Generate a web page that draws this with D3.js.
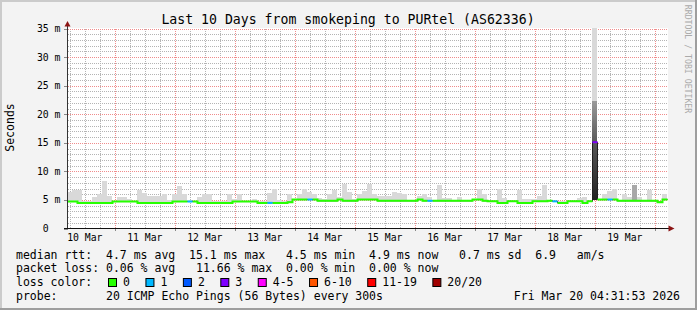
<!DOCTYPE html>
<html>
<head>
<meta charset="utf-8">
<script src="https://cdn.jsdelivr.net/npm/d3@7"></script>
<style>
  body { margin: 0; background: #f3f3f3; }
  svg { display: block; font-family: "DejaVu Sans Mono", monospace; }
</style>
</head>
<body>
<script>
// chart text
var title = "Last 10 Days from smokeping to PURtel (AS62336)";
var yAxisTitle = "Seconds";
var yTicks = [0, 5, 10, 15, 20, 25, 30, 35];
var yTickLabels = ["0  ", "5 m", "10 m", "15 m", "20 m", "25 m", "30 m", "35 m"];

// median rtt (ms), one value per 2 hours starting 10 Mar 05:04
var median = [
  4.72, 4.72, 4.48, 4.48, 4.48, 4.48, 4.48, 4.48, 4.48, 4.72,
  4.72, 4.72, 4.72, 4.72, 4.48, 4.48, 4.48, 4.48, 4.48, 4.48,
  4.48, 4.72, 4.72, 4.72, 4.72, 4.72, 4.48, 4.48, 4.48, 4.48,
  4.48, 4.48, 4.48, 4.72, 4.72, 4.72, 4.72, 4.72, 4.48, 4.48,
  4.48, 4.48, 4.48, 4.48, 4.6,  5.07, 5.07, 5.07, 5.07, 5.07,
  4.85, 4.85, 4.85, 4.85, 5.07, 4.85, 4.85, 4.85, 5.07, 5.07,
  5.07, 5.07, 4.85, 4.85, 4.85, 4.85, 4.85, 4.85, 4.85, 4.85,
  5.07, 4.85, 4.85, 4.85, 4.85, 4.85, 4.85, 4.85, 4.85, 4.85,
  4.85, 5.07, 5.07, 4.85, 4.75, 4.75, 4.48, 4.48, 4.75, 4.75,
  4.48, 4.48, 4.48, 4.75, 4.75, 4.75, 4.85, 4.75, 4.48, 4.48,
  4.75, 4.75, 4.75, 4.48, 4.75, 15.1, 5.07, 5.07, 5.07, 5.07,
  4.85, 4.85, 4.85, 4.85, 4.85, 4.85, 4.85, 4.85, 4.6,  5.07
];

// top of the smoke (highest ping, ms)
var smokeHi = [
  6.4, 6.7, 6.7, 4.9, 4.8, 5.5, 6.1, 8.3, 5.7, 4.9,
  5.5, 5.5, 5.2, 4.9, 6.7, 6.2, 5.7, 5.7, 5.7, 6.1,
  5.0, 6.0, 7.4, 6.1, 5.0, 4.9, 5.5, 6.0, 6.0, 4.8,
  4.8, 4.9, 6.0, 5.2, 6.1, 4.9, 4.9, 5.2, 4.9, 4.8,
  6.2, 7.0, 5.0, 4.9, 6.1, 5.2, 6.0, 7.0, 6.4, 6.1,
  5.3, 5.2, 6.1, 6.7, 5.5, 7.75, 6.4, 5.2, 6.0, 6.6,
  7.75, 6.1, 5.7, 5.7, 5.7, 6.4, 6.2, 6.0, 5.0, 4.9,
  5.7, 6.0, 5.5, 5.0, 7.6, 5.4, 5.4, 4.9, 5.5, 4.9,
  4.9, 5.0, 7.0, 6.1, 4.9, 4.9, 7.0, 5.3, 4.8, 4.8,
  6.7, 5.2, 5.1, 5.1, 5.7, 7.6, 4.9, 4.9, 4.8, 4.8,
  4.9, 4.9, 5.4, 5.5, 4.9, 40,  5.1, 6.1, 6.6, 7.0,
  4.9, 6.1, 5.5, 7.6, 5.5, 5.0, 6.7, 4.9, 4.9, 6.1
];

// denser part of the smoke: [index, low, high]
var smokeDark = [[105, 5.0, 22.4], [113, 4.85, 7.6]];

// loss events: [index, loss colour class]
var lossEvents = [[24, 1], [40, 1], [48, 1], [72, 1], [97, 1], [105, 3], [108, 1]];

var lossLabels = ["0", "1", "2", "3", "4-5", "6-10", "11-19", "20/20"];
var lossColors = ["#26ff00", "#00b8ff", "#0059ff", "#7e00ff", "#ff00ff", "#ff5500", "#ff0000", "#a00000"];

var legendRows = [
  "median rtt:  4.7 ms avg  15.1 ms max   4.5 ms min  4.9 ms now   0.7 ms sd  6.9   am/s",
  "packet loss: 0.06 % avg   11.66 % max  0.00 % min  0.00 % now",
  "loss color:",
  "probe:       20 ICMP Echo Pings (56 Bytes) every 300s"
];
var stamp = "Fri Mar 20 04:31:53 2026";
var watermark = "RRDTOOL / TOBI OETIKER";

var W = 697, H = 310;
var start = Date.UTC(2026, 2, 10, 5, 4);
var step = 2 * 3600 * 1000;
var end = start + 10 * 24 * 3600 * 1000;

var x = d3.scaleUtc().domain([start, end]).range([67.5, 667.5]);
var y = d3.scaleLinear().domain([0, 35]).range([228.5, 28.5]);

// keep runs of spaces in svg text
function keep(s) { return s.replace(/ /g, "\u00a0"); }

var svg = d3.select("body").append("svg")
  .attr("width", W).attr("height", H);

// frame
svg.append("rect").attr("width", W).attr("height", H).attr("fill", "#f3f3f3");
svg.append("path").attr("d", "M0,0H" + W + "V2H2V" + H + "H0Z").attr("fill", "#cbcbcb");
svg.append("path").attr("d", "M" + W + ",0V" + H + "H0V" + (H - 2) + "H" + (W - 2) + "V0Z").attr("fill", "#9e9e9e");

// canvas
svg.append("rect").attr("x", 67).attr("y", 28).attr("width", 601).attr("height", 201).attr("fill", "#fff");

var grid = svg.append("g").attr("shape-rendering", "crispEdges");
var minorCol = "#b4b4b4", majorCol = "#f08c8c";

// minor grid
var minorY = d3.range(0, 36).filter(function(v) { return v % 5 !== 0; });
grid.selectAll(".my").data(minorY).enter().append("line")
  .attr("x1", 67.5).attr("x2", 667.5)
  .attr("y1", function(d) { return Math.round(y(d)) + 0.5; })
  .attr("y2", function(d) { return Math.round(y(d)) + 0.5; })
  .attr("stroke", minorCol).attr("stroke-dasharray", "1,1");
var minorX = d3.utcHour.every(6).range(start, end).filter(function(d) { return d.getUTCHours() !== 0; });
grid.selectAll(".mx").data(minorX).enter().append("line")
  .attr("x1", function(d) { return Math.round(x(d)) + 0.5; })
  .attr("x2", function(d) { return Math.round(x(d)) + 0.5; })
  .attr("y1", 28.5).attr("y2", 228.5)
  .attr("stroke", minorCol).attr("stroke-dasharray", "1,1");

// major grid
grid.selectAll(".My").data(yTicks.slice(1)).enter().append("line")
  .attr("x1", 67.5).attr("x2", 667.5)
  .attr("y1", function(d) { return Math.round(y(d)) + 0.5; })
  .attr("y2", function(d) { return Math.round(y(d)) + 0.5; })
  .attr("stroke", majorCol).attr("stroke-dasharray", "1,1");
var days = d3.utcDay.range(start, end);
grid.selectAll(".Mx").data(days).enter().append("line")
  .attr("x1", function(d) { return Math.round(x(d)) + 0.5; })
  .attr("x2", function(d) { return Math.round(x(d)) + 0.5; })
  .attr("y1", 28.5).attr("y2", 228.5)
  .attr("stroke", majorCol).attr("stroke-dasharray", "1,1");

// ticks outside the axes
grid.selectAll(".ty").data(yTicks).enter().append("line")
  .attr("x1", 64).attr("x2", 67.5)
  .attr("y1", function(d) { return Math.round(y(d)) + 0.5; })
  .attr("y2", function(d) { return Math.round(y(d)) + 0.5; })
  .attr("stroke", "#888");
grid.selectAll(".tx").data(days).enter().append("line")
  .attr("x1", function(d) { return Math.round(x(d)) + 0.5; })
  .attr("x2", function(d) { return Math.round(x(d)) + 0.5; })
  .attr("y1", 228.5).attr("y2", 231)
  .attr("stroke", "#888");

// smoke
svg.append("clipPath").attr("id", "plotclip")
  .append("rect").attr("x", 67).attr("y", 28).attr("width", 601).attr("height", 201);
var defs = svg.append("defs");
var grad = defs.append("linearGradient").attr("id", "spike").attr("x1", 0).attr("x2", 0).attr("y1", 0).attr("y2", 1);
grad.append("stop").attr("offset", "0%").attr("stop-color", "#9a9a9a");
grad.append("stop").attr("offset", "45%").attr("stop-color", "#555");
grad.append("stop").attr("offset", "100%").attr("stop-color", "#222");

var plot = svg.append("g").attr("clip-path", "url(#plotclip)");
function t(i) { return start + i * step; }

plot.selectAll(".smoke").data(smokeHi).enter().append("rect")
  .attr("x", function(d, i) { return x(t(i)) - 0.5; })
  .attr("width", function(d, i) { return x(t(i + 1)) - x(t(i)); })
  .attr("y", function(d) { return y(d); })
  .attr("height", function(d, i) { return Math.max(0, y(median[i]) - y(d)); })
  .attr("fill", "#d9d9d9")
  .attr("shape-rendering", "crispEdges");

plot.selectAll(".dark").data(smokeDark).enter().append("rect")
  .attr("x", function(d) { return x(t(d[0])) - 0.5; })
  .attr("width", function(d) { return x(t(d[0] + 1)) - x(t(d[0])); })
  .attr("y", function(d) { return y(d[2]); })
  .attr("height", function(d) { return y(d[1]) - y(d[2]); })
  .attr("fill", function(d) { return d[2] > 10 ? "url(#spike)" : "#a8a8a8"; })
  .attr("shape-rendering", "crispEdges");

// median: thin dark step line, then loss coloured segments
var lossAt = {};
lossEvents.forEach(function(e) { lossAt[e[0]] = e[1]; });

var pts = median.map(function(m, i) { return [t(i), m]; });
pts.push([t(median.length), median[median.length - 1]]);
var stepLine = d3.line()
  .x(function(d) { return x(d[0]); })
  .y(function(d) { return y(d[1]); })
  .curve(d3.curveStepAfter);

plot.append("path").attr("d", stepLine(pts))
  .attr("fill", "none").attr("stroke", "#202020").attr("stroke-width", 1);

// runs of zero loss drawn as green steps
var runs = [], cur = null;
median.forEach(function(m, i) {
  if (lossAt[i] === undefined) {
    if (!cur) { cur = []; runs.push(cur); }
    cur.push([t(i), m]);
  } else {
    if (cur) cur.push([t(i), cur[cur.length - 1][1]]);
    cur = null;
  }
});
if (cur) cur.push([t(median.length), cur[cur.length - 1][1]]);

plot.selectAll(".run").data(runs).enter().append("path")
  .attr("d", stepLine)
  .attr("fill", "none").attr("stroke", lossColors[0]).attr("stroke-width", 2);

plot.selectAll(".loss").data(lossEvents).enter().append("line")
  .attr("x1", function(d) { return x(t(d[0])); })
  .attr("x2", function(d) { return x(t(d[0] + 1)); })
  .attr("y1", function(d) { return y(median[d[0]]); })
  .attr("y2", function(d) { return y(median[d[0]]); })
  .attr("stroke", function(d) { return lossColors[d[1]]; })
  .attr("stroke-width", 2);

// axes
svg.append("line").attr("x1", 67.5).attr("x2", 67.5).attr("y1", 229).attr("y2", 24)
  .attr("stroke", "#333").attr("shape-rendering", "crispEdges");
svg.append("line").attr("x1", 64).attr("x2", 670).attr("y1", 228.5).attr("y2", 228.5)
  .attr("stroke", "#111").attr("shape-rendering", "crispEdges");
svg.append("path").attr("d", "M64.5,26.5L70.5,26.5L67.5,21Z").attr("fill", "#8b1414");
svg.append("path").attr("d", "M668.5,225.5L668.5,231.5L674.5,228.5Z").attr("fill", "#8b1414");

// y labels
svg.selectAll(".yl").data(yTicks).enter().append("text")
  .attr("x", 60.5).attr("y", function(d) { return y(d); })
  .attr("dy", "0.35em").attr("text-anchor", "end")
  .attr("font-size", 9.8).attr("fill", "#000")
  .text(function(d, i) { return keep(yTickLabels[i]); });

// x labels at noon
var noons = days.map(function(d) { return d3.utcHour.offset(d3.utcDay.offset(d, -1), 12); })
  .concat(days.map(function(d) { return d3.utcHour.offset(d, 12); }))
  .filter(function(d, i, a) { return d >= start && d <= end && a.findIndex(function(e) { return +e === +d; }) === i; })
  .sort(function(a, b) { return a - b; });
svg.selectAll(".xl").data(noons).enter().append("text")
  .attr("x", function(d) { return x(d); }).attr("y", 241)
  .attr("text-anchor", "middle").attr("font-size", 9.8).attr("fill", "#000")
  .text(d3.utcFormat("%d %b"));

// titles
svg.append("text").attr("x", 348).attr("y", 24).attr("text-anchor", "middle")
  .attr("font-size", 13.2).attr("fill", "#000").text(title);
svg.append("text").attr("transform", "translate(13.5,127.5) rotate(-90)")
  .attr("text-anchor", "middle").attr("font-size", 11.5).attr("fill", "#000").text(yAxisTitle);
svg.append("text").attr("transform", "translate(685,59) rotate(90)")
  .attr("text-anchor", "middle").attr("font-size", 8.2).attr("fill", "#aaa").text(watermark);

// legend
var rowY = [258.5, 272, 286, 299.5];
svg.selectAll(".lg").data(legendRows).enter().append("text")
  .attr("x", 16).attr("y", function(d, i) { return rowY[i]; })
  .attr("font-size", 11.5).attr("fill", "#000")
  .text(function(d) { return keep(d); });
svg.append("text").attr("x", 680).attr("y", rowY[3]).attr("text-anchor", "end")
  .attr("font-size", 11.5).attr("fill", "#000").text(stamp);

var bx = 108.5;
lossLabels.forEach(function(lbl, i) {
  svg.append("rect").attr("x", bx).attr("y", 278.5).attr("width", 8).attr("height", 8)
    .attr("fill", lossColors[i]).attr("stroke", "#000");
  var tx = svg.append("text").attr("x", bx + 14.5).attr("y", rowY[2])
    .attr("font-size", 11.5).attr("fill", "#000").text(lbl);
  bx = bx + 14.5 + tx.node().getComputedTextLength() + 16;
});
</script>
</body>
</html>
